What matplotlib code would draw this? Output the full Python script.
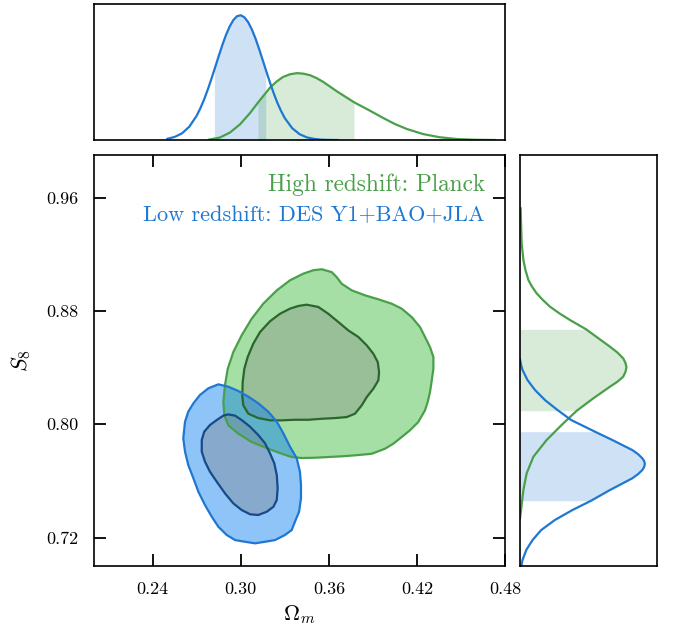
import matplotlib
matplotlib.use("Agg")
import matplotlib.pyplot as plt
import numpy as np

plt.rcParams["font.family"] = "cmr10"
plt.rcParams["mathtext.fontset"] = "cm"
plt.rcParams["axes.formatter.use_mathtext"] = True

GREEN = "#4a9f4a"
GREEN_DARK = "#2b662d"
BLUE = "#1e78d2"
BLUE_DARK = "#174a87"

# --- 2D contours (Omega_m, S8) ---
green_out_x = [0.3551, 0.3619, 0.3653, 0.3687, 0.3756, 0.3846, 0.3937, 0.4028, 0.4096, 0.4164,
               0.4221, 0.4255, 0.4289, 0.4312, 0.4312, 0.4301, 0.4289, 0.4273, 0.4255, 0.4209,
               0.4153, 0.4096, 0.4039, 0.3983, 0.3892, 0.3778, 0.3687, 0.3596, 0.3506, 0.3415,
               0.3347, 0.3279, 0.3187, 0.3074, 0.2983, 0.2915, 0.2888, 0.2881, 0.2892, 0.2911,
               0.2949, 0.3006, 0.3074, 0.3153, 0.3245, 0.3335, 0.3426, 0.3494]
green_out_y = [0.9094, 0.9074, 0.9039, 0.8992, 0.8945, 0.8910, 0.8882, 0.8851, 0.8816, 0.8757,
               0.8686, 0.8616, 0.8545, 0.8475, 0.8392, 0.8310, 0.8228, 0.8157, 0.8099, 0.8016,
               0.7958, 0.7910, 0.7863, 0.7828, 0.7792, 0.7781, 0.7774, 0.7769, 0.7764, 0.7762,
               0.7769, 0.7792, 0.7828, 0.7875, 0.7934, 0.7993, 0.8063, 0.8157, 0.8275, 0.8392,
               0.8510, 0.8628, 0.8745, 0.8851, 0.8945, 0.9016, 0.9063, 0.9087]

green_in_x = [0.3449, 0.3528, 0.3596, 0.3664, 0.3732, 0.3801, 0.3858, 0.3903, 0.3933, 0.3942,
              0.3937, 0.3903, 0.3858, 0.3824, 0.3778, 0.3722, 0.3642, 0.3551, 0.3460, 0.3369,
              0.3279, 0.3199, 0.3119, 0.3051, 0.3017, 0.3010, 0.3013, 0.3024, 0.3047, 0.3085,
              0.3131, 0.3199, 0.3267, 0.3335, 0.3392]
green_in_y = [0.8844, 0.8828, 0.8780, 0.8722, 0.8663, 0.8616, 0.8557, 0.8498, 0.8439, 0.8369,
              0.8310, 0.8251, 0.8192, 0.8134, 0.8075, 0.8051, 0.8044, 0.8039, 0.8032, 0.8032,
              0.8028, 0.8028, 0.8044, 0.8075, 0.8134, 0.8204, 0.8298, 0.8392, 0.8475, 0.8569,
              0.8651, 0.8727, 0.8780, 0.8816, 0.8835]

blue_out_x = [0.2847, 0.2915, 0.2983, 0.3051, 0.3119, 0.3187, 0.3245, 0.3290, 0.3335, 0.3381,
              0.3403, 0.3410, 0.3410, 0.3397, 0.3369, 0.3347, 0.3301, 0.3233, 0.3165, 0.3097,
              0.3029, 0.2961, 0.2904, 0.2847, 0.2802, 0.2756, 0.2711, 0.2677, 0.2642, 0.2620,
              0.2608, 0.2620, 0.2642, 0.2677, 0.2722, 0.2779]
blue_out_y = [0.8282, 0.8265, 0.8235, 0.8195, 0.8148, 0.8089, 0.8018, 0.7936, 0.7842, 0.7760,
              0.7665, 0.7572, 0.7478, 0.7383, 0.7313, 0.7254, 0.7219, 0.7183, 0.7171, 0.7160,
              0.7171, 0.7183, 0.7219, 0.7277, 0.7348, 0.7430, 0.7524, 0.7619, 0.7713, 0.7807,
              0.7901, 0.8018, 0.8089, 0.8148, 0.8207, 0.8254]

blue_in_x = [0.2915, 0.2961, 0.3006, 0.3063, 0.3119, 0.3165, 0.3199, 0.3228, 0.3245, 0.3251,
             0.3245, 0.3222, 0.3177, 0.3119, 0.3063, 0.3006, 0.2949, 0.2892, 0.2836, 0.2790,
             0.2756, 0.2734, 0.2734, 0.2751, 0.2790, 0.2836, 0.2881]
blue_in_y = [0.8070, 0.8061, 0.8030, 0.7983, 0.7924, 0.7866, 0.7795, 0.7725, 0.7642, 0.7548,
             0.7466, 0.7418, 0.7383, 0.7360, 0.7365, 0.7395, 0.7442, 0.7513, 0.7595, 0.7665,
             0.7736, 0.7807, 0.7889, 0.7948, 0.7995, 0.8030, 0.8061]

# --- 1D marginals ---
om_blue_x = [0.250, 0.255, 0.260, 0.265, 0.270, 0.2725, 0.275, 0.2775, 0.280, 0.282, 0.285,
             0.2875, 0.290, 0.2925, 0.295, 0.2975, 0.300, 0.3025, 0.305, 0.3075, 0.310, 0.3125,
             0.315, 0.317, 0.320, 0.3225, 0.325, 0.3275, 0.330, 0.335, 0.340, 0.345, 0.350,
             0.355, 0.360, 0.366]
om_blue_p = [0.010, 0.025, 0.054, 0.108, 0.196, 0.256, 0.325, 0.404, 0.491, 0.564, 0.675,
             0.764, 0.845, 0.912, 0.963, 0.993, 1.000, 0.983, 0.945, 0.887, 0.814, 0.729,
             0.638, 0.564, 0.456, 0.372, 0.296, 0.231, 0.175, 0.095, 0.047, 0.021, 0.009,
             0.003, 0.001, 0.000]
om_green_x = [0.2783, 0.2858, 0.2926, 0.2994, 0.3062, 0.3117, 0.3199, 0.3243, 0.3287, 0.3335,
              0.3382, 0.3425, 0.3471, 0.3515, 0.3560, 0.3655, 0.3771, 0.3880, 0.3968, 0.4050,
              0.4132, 0.4241, 0.4356, 0.4472, 0.4595, 0.4731]
om_green_p = [0.003, 0.020, 0.060, 0.125, 0.215, 0.300, 0.420, 0.468, 0.505, 0.527,
              0.536, 0.532, 0.520, 0.497, 0.467, 0.390, 0.303, 0.235, 0.178, 0.128,
              0.088, 0.048, 0.022, 0.008, 0.002, 0.000]

s8_blue_y = [0.8458, 0.8420, 0.8383, 0.8312, 0.8242, 0.8171, 0.8101, 0.8030, 0.7948, 0.7889,
             0.7818, 0.7790, 0.7760, 0.7740, 0.7720, 0.7700, 0.7677, 0.7648, 0.7619, 0.7536,
             0.7461, 0.7395, 0.7325, 0.7254, 0.7183, 0.7113, 0.7042, 0.7000]
s8_blue_p = [0.000, 0.008, 0.020, 0.060, 0.120, 0.200, 0.300, 0.410, 0.600, 0.740,
             0.900, 0.945, 0.980, 0.995, 1.000, 0.995, 0.980, 0.945, 0.900, 0.720,
             0.570, 0.420, 0.280, 0.170, 0.100, 0.050, 0.020, 0.010]
s8_green_y = [0.9524, 0.9277, 0.9159, 0.9090, 0.9018, 0.8970, 0.8924, 0.8877, 0.8830, 0.8783,
              0.8736, 0.8670, 0.8548, 0.8507, 0.8465, 0.8433, 0.8402, 0.8370, 0.8336, 0.8300,
              0.8265, 0.8183, 0.8096, 0.8007, 0.7889, 0.7771, 0.7654, 0.7536, 0.7395, 0.7336]
s8_green_p = [0.005, 0.013, 0.027, 0.043, 0.067, 0.097, 0.133, 0.183, 0.240, 0.315,
              0.400, 0.530, 0.720, 0.780, 0.827, 0.845, 0.853, 0.845, 0.827, 0.780,
              0.720, 0.587, 0.455, 0.347, 0.213, 0.107, 0.053, 0.027, 0.008, 0.000]

# 68% intervals shaded in the marginals
om_blue_band = (0.282, 0.317)
om_green_band = (0.3117, 0.3771)
s8_blue_band = (0.7461, 0.7948)
s8_green_band = (0.8096, 0.8670)

xticks = [0.24, 0.30, 0.36, 0.42, 0.48]
xtick_labels = ["0.24", "0.30", "0.36", "0.42", "0.48"]
yticks = [0.72, 0.80, 0.88, 0.96]
ytick_labels = ["0.72", "0.80", "0.88", "0.96"]

label_high = "High redshift: Planck"
label_low = "Low redshift: DES Y1+BAO+JLA"

fig = plt.figure(figsize=(6.73, 6.31), dpi=100)
ax = fig.add_axes([0.1397, 0.1030, 0.6107, 0.6513])
ax_top = fig.add_axes([0.1397, 0.7781, 0.6107, 0.2155])
ax_right = fig.add_axes([0.7727, 0.1030, 0.2036, 0.6513])

# main panel
ax.fill(green_out_x, green_out_y, color="#a6dfa6", lw=0, zorder=1)
ax.fill(green_in_x, green_in_y, color="#99bf99", lw=0, zorder=1)
ax.fill(blue_out_x, blue_out_y, color="#077cf0", alpha=0.45, lw=0, zorder=2)
ax.fill(blue_in_x, blue_in_y, color="#7b838c", alpha=0.4, lw=0, zorder=2)
ax.fill(green_out_x, green_out_y, fill=False, ec=GREEN, lw=1.6, zorder=3)
ax.fill(green_in_x, green_in_y, fill=False, ec=GREEN_DARK, lw=1.6, zorder=3)
ax.fill(blue_out_x, blue_out_y, fill=False, ec=BLUE, lw=1.6, zorder=4)
ax.fill(blue_in_x, blue_in_y, fill=False, ec=BLUE_DARK, lw=1.6, zorder=4)

ax.set_xlim(0.20, 0.48)
ax.set_ylim(0.70, 0.99)
ax.set_xticks(xticks)
ax.set_xticklabels(xtick_labels)
ax.set_yticks(yticks)
ax.set_yticklabels(ytick_labels)
ax.tick_params(direction="in", length=8.5, width=1.3, top=True, right=True,
               labelsize=13, pad=11)
ax.set_xlabel(r"$\Omega_m$", fontsize=16, labelpad=5)
ax.set_ylabel(r"$S_8$", fontsize=16, labelpad=10)
ax.text(0.951, 0.913, label_high, transform=ax.transAxes, ha="right", va="baseline",
        color=GREEN, fontsize=16.8)
ax.text(0.951, 0.838, label_low, transform=ax.transAxes, ha="right", va="baseline",
        color=BLUE, fontsize=16)

# top marginal
omb_x, omb_p = np.array(om_blue_x), np.array(om_blue_p)
omg_x, omg_p = np.array(om_green_x), np.array(om_green_p)
ax_top.fill_between(omb_x, omb_p, where=(omb_x >= om_blue_band[0]) & (omb_x <= om_blue_band[1]),
                    color=BLUE, alpha=0.21, lw=0)
ax_top.fill_between(omg_x, omg_p, where=(omg_x >= om_green_band[0]) & (omg_x <= om_green_band[1]),
                    color=GREEN, alpha=0.21, lw=0)
ax_top.plot(omg_x, omg_p, color=GREEN, lw=1.6)
ax_top.plot(omb_x, omb_p, color=BLUE, lw=1.6)
ax_top.set_xlim(0.20, 0.48)
ax_top.set_ylim(0, 1.09)
ax_top.set_xticks([])
ax_top.set_yticks([])

# right marginal
s8b_y, s8b_p = np.array(s8_blue_y), np.array(s8_blue_p)
s8g_y, s8g_p = np.array(s8_green_y), np.array(s8_green_p)
ax_right.fill_betweenx(s8b_y, s8b_p, where=(s8b_y >= s8_blue_band[0]) & (s8b_y <= s8_blue_band[1]),
                       color=BLUE, alpha=0.21, lw=0)
ax_right.fill_betweenx(s8g_y, s8g_p, where=(s8g_y >= s8_green_band[0]) & (s8g_y <= s8_green_band[1]),
                       color=GREEN, alpha=0.21, lw=0)
ax_right.plot(s8g_p, s8g_y, color=GREEN, lw=1.6)
ax_right.plot(s8b_p, s8b_y, color=BLUE, lw=1.6)
ax_right.set_ylim(0.70, 0.99)
ax_right.set_xlim(0, 1.098)
ax_right.set_xticks([])
ax_right.set_yticks([])

for a in (ax, ax_top, ax_right):
    for sp in a.spines.values():
        sp.set_linewidth(1.2)

fig.savefig("out.png", dpi=100)
